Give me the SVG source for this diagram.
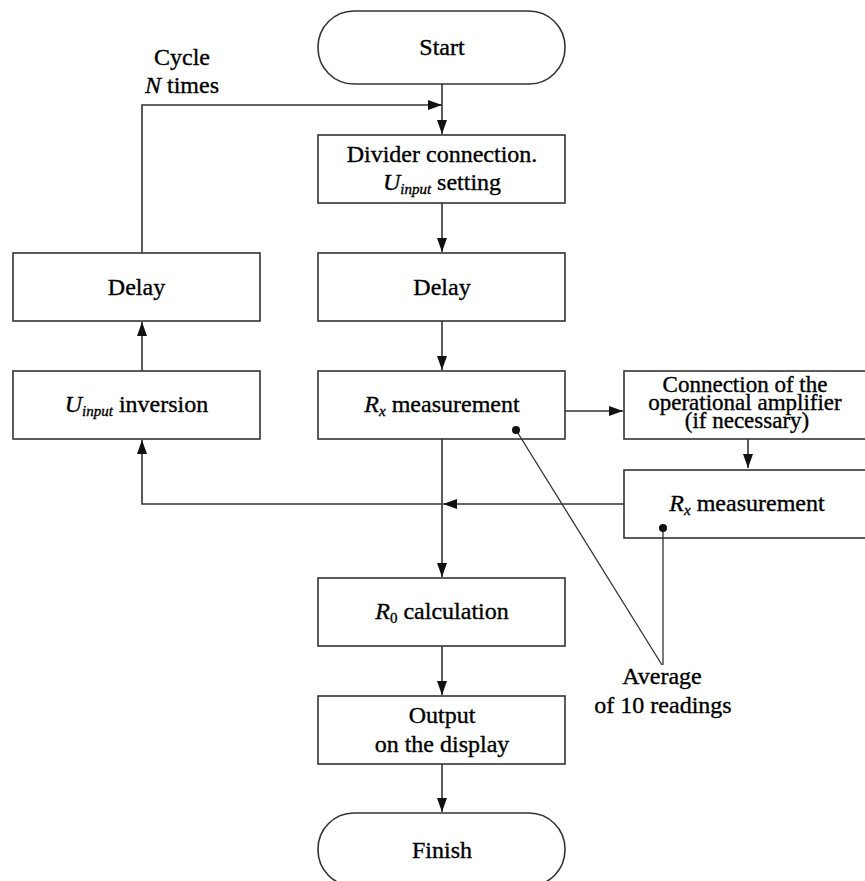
<svg xmlns="http://www.w3.org/2000/svg" width="865" height="881" viewBox="0 0 865 881">
<style>
.box{fill:#fff;stroke:#333;stroke-width:1.6}
.ln{fill:none;stroke:#333;stroke-width:1.6}
.t{font-family:'Liberation Serif','DejaVu Serif',serif;font-size:24px;fill:#000;text-anchor:middle}
.t text{stroke:#000;stroke-width:0.35}
.it{font-style:italic}
.sub{font-size:15px}
.tight{font-size:23px}
</style>
<defs>
<marker id="arr" markerUnits="userSpaceOnUse" markerWidth="15" markerHeight="11" refX="14" refY="5" orient="auto">
<path d="M0,0 L14,5 L0,10 Z" fill="#111"/>
</marker>
</defs>
<rect width="865" height="881" fill="#fff"/>
<g id="connectors">
<path class="ln" d="M442,84 V134" marker-end="url(#arr)"/>
<path class="ln" d="M142,253 V105 H442" marker-end="url(#arr)"/>
<path class="ln" d="M442,203 V252" marker-end="url(#arr)"/>
<path class="ln" d="M442,321 V370" marker-end="url(#arr)"/>
<path class="ln" d="M565,411 H623" marker-end="url(#arr)"/>
<path class="ln" d="M748,439 V468" marker-end="url(#arr)"/>
<path class="ln" d="M624,504 H443" marker-end="url(#arr)"/>
<path class="ln" d="M442,504 H142 V440" marker-end="url(#arr)"/>
<path class="ln" d="M142,371 V322" marker-end="url(#arr)"/>
<path class="ln" d="M442,439 V577" marker-end="url(#arr)"/>
<path class="ln" d="M442,646 V695" marker-end="url(#arr)"/>
<path class="ln" d="M442,764 V812" marker-end="url(#arr)"/>
</g>
<g id="cycle-label" class="t">
<text x="182" y="65">Cycle</text>
<text x="182" y="93"><tspan class="it">N</tspan> times</text>
</g>
<g id="start" class="t">
<rect class="box" x="318" y="11" width="247" height="73" rx="36" ry="36"/>
<text x="442" y="55">Start</text>
</g>
<g id="divider" class="t">
<rect class="box" x="318" y="135" width="247" height="68"/>
<text x="442" y="162">Divider connection.</text>
<text x="442" y="190"><tspan class="it">U</tspan><tspan class="it sub" dy="4">input</tspan><tspan dy="-4"> setting</tspan></text>
</g>
<g id="delay-main" class="t">
<rect class="box" x="318" y="253" width="247" height="68"/>
<text x="442" y="295">Delay</text>
</g>
<g id="rx-main" class="t">
<rect class="box" x="318" y="371" width="247" height="68"/>
<text x="442" y="412"><tspan class="it">R</tspan><tspan class="it sub" dy="4">x</tspan><tspan dy="-4"> measurement</tspan></text>
</g>
<g id="delay-left" class="t">
<rect class="box" x="13" y="253" width="247" height="68"/>
<text x="136.5" y="295">Delay</text>
</g>
<g id="inversion" class="t">
<rect class="box" x="13" y="371" width="247" height="68"/>
<text x="136.5" y="412"><tspan class="it">U</tspan><tspan class="it sub" dy="4">input</tspan><tspan dy="-4"> inversion</tspan></text>
</g>
<g id="opamp" class="t">
<rect class="box" x="624" y="371" width="248" height="68"/>
<text class="tight" x="745" y="392">Connection of the</text>
<text class="tight" x="745" y="410">operational amplifier</text>
<text class="tight" x="747" y="428">(if necessary)</text>
</g>
<g id="rx-second" class="t">
<rect class="box" x="624" y="470" width="248" height="68"/>
<text x="747" y="511"><tspan class="it">R</tspan><tspan class="it sub" dy="4">x</tspan><tspan dy="-4"> measurement</tspan></text>
</g>
<g id="r0" class="t">
<rect class="box" x="318" y="578" width="247" height="68"/>
<text x="442" y="619"><tspan class="it">R</tspan><tspan class="sub" dy="4">0</tspan><tspan dy="-4"> calculation</tspan></text>
</g>
<g id="output" class="t">
<rect class="box" x="318" y="696" width="247" height="68"/>
<text x="442" y="723">Output</text>
<text x="442" y="752">on the display</text>
</g>
<g id="finish" class="t">
<rect class="box" x="318" y="813" width="247" height="73" rx="36" ry="36"/>
<text x="442" y="858">Finish</text>
</g>
<g id="annotation">
<path class="ln" d="M516,430 L662,665" style="stroke-width:1.3"/>
<path class="ln" d="M663,528 V665" style="stroke-width:1.3"/>
<circle cx="516" cy="430" r="4" fill="#111"/>
<circle cx="663" cy="528" r="4" fill="#111"/>
</g>
<g id="average-label" class="t">
<text x="662" y="684">Average</text>
<text x="663" y="713">of 10 readings</text>
</g>
</svg>
